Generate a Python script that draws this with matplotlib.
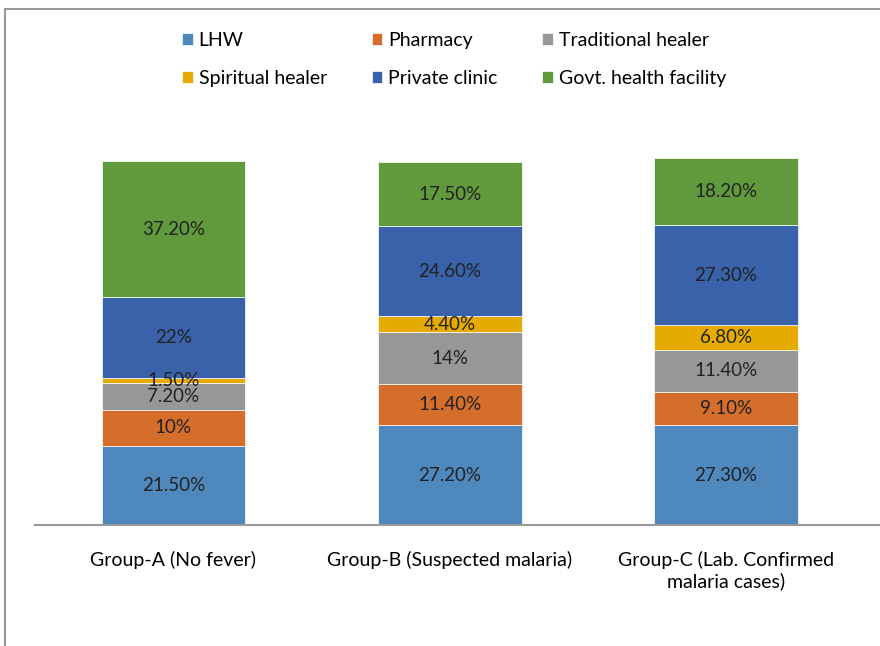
import matplotlib.pyplot as plt
import matplotlib.lines as mlines
import numpy as np

plt.rcParams['font.family'] = ['Lato', 'DejaVu Sans']

groups = ["Group-A (No fever)", "Group-B (Suspected malaria)",
          "Group-C (Lab. Confirmed\nmalaria cases)"]
series = ["LHW", "Pharmacy", "Traditional healer",
          "Spiritual healer", "Private clinic", "Govt. health facility"]
lhw = [21.5, 27.2, 27.3]
pharmacy = [10, 11.4, 9.1]
traditional = [7.2, 14, 11.4]
spiritual = [1.5, 4.4, 6.8]
private = [22, 24.6, 27.3]
govt = [37.2, 17.5, 18.2]
colors = ["#4f88bd", "#d56e2b", "#979797", "#e6ab00", "#3a62ab", "#61993d"]

values = [lhw, pharmacy, traditional, spiritual, private, govt]


def fmt(v):
    return f"{v:.0f}%" if float(v).is_integer() else f"{v:.2f}%"


fig = plt.figure(figsize=(8.8, 6.46), dpi=100)
ax = fig.add_axes([0.04, 0.1873, 0.96, 0.627])

x = np.arange(len(groups))
bottom = np.zeros(len(groups))
handles = []
for name, vals, col in zip(series, values, colors):
    bars = ax.bar(x, vals, 0.52, bottom=bottom, color=col, label=name,
                  edgecolor="white", linewidth=0.5)
    for xi, b, v in zip(x, bottom, vals):
        ax.text(xi, b + v / 2, fmt(v), ha="center", va="center",
                fontsize=13.5, color="#222222")
    bottom += np.array(vals)
    handles.append(bars)

ax.set_xlim(-0.5, 2.557)
ax.set_ylim(0, 110.6)
ax.set_yticks([])
ax.set_xticks(x)
ax.set_xticklabels(groups, fontsize=14, linespacing=1.2)
ax.tick_params(axis="x", length=0, pad=19)
for s in ["top", "right", "left"]:
    ax.spines[s].set_visible(False)
ax.spines["bottom"].set_color("#999999")
ax.spines["bottom"].set_linewidth(1.5)

# legend filled row by row, like the original
order = [0, 3, 1, 4, 2, 5]
fig.legend(handles=[handles[i] for i in order], loc="upper left",
           bbox_to_anchor=(0.187, 0.978), ncol=3, frameon=False, fontsize=14,
           handlelength=0.55, handleheight=0.55, handletextpad=0.3,
           columnspacing=2.3, labelspacing=1.1)

# outer chart border (top and left visible)
fig.add_artist(mlines.Line2D([0.0057, 1.0], [0.986, 0.986], color="#999999",
                             linewidth=1.5, transform=fig.transFigure))
fig.add_artist(mlines.Line2D([0.0057, 0.0057], [0.0, 0.986], color="#999999",
                             linewidth=1.5, transform=fig.transFigure))

plt.savefig("out.png", dpi=100)
